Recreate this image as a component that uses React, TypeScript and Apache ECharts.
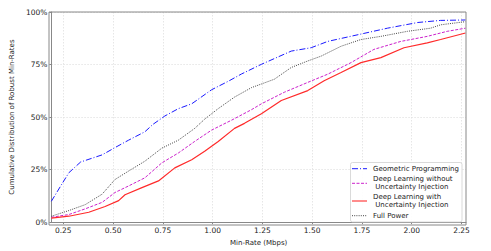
import React, { useEffect, useRef } from "react";
import * as echarts from "echarts";

const xTicks = [0.25, 0.5, 0.75, 1.0, 1.25, 1.5, 1.75, 2.0, 2.25];
const yTicks = [0, 25, 50, 75, 100];

const gpX = [0.19, 0.237, 0.278, 0.337, 0.445, 0.52, 0.578, 0.66, 0.7, 0.76, 0.828, 0.895, 0.995, 1.078, 1.145, 1.245, 1.395, 1.495, 1.578, 1.745, 1.878, 2.03, 2.145, 2.27];
const gpY = [9.9, 17.2, 23.5, 28.6, 32.0, 36.0, 39.0, 43.0, 46.5, 50.5, 54.0, 56.3, 63.0, 67.0, 70.5, 75.1, 81.4, 83.0, 86.0, 89.5, 92.3, 95.0, 96.0, 96.2];

const fpX = [0.19, 0.278, 0.36, 0.445, 0.51, 0.578, 0.66, 0.745, 0.828, 0.91, 0.96, 1.028, 1.11, 1.195, 1.31, 1.395, 1.478, 1.545, 1.645, 1.745, 1.845, 1.978, 2.095, 2.145, 2.27];
const fpY = [2.8, 5.5, 8.3, 13.3, 20.3, 24.3, 29.0, 35.2, 39.0, 44.6, 49.0, 54.0, 59.5, 64.0, 68.0, 73.6, 76.7, 79.0, 83.7, 86.9, 88.4, 90.8, 92.3, 93.9, 95.4];

const dlwoX = [0.19, 0.278, 0.36, 0.445, 0.51, 0.578, 0.66, 0.745, 0.828, 0.91, 0.995, 1.095, 1.195, 1.245, 1.36, 1.478, 1.578, 1.695, 1.81, 1.945, 2.078, 2.178, 2.27];
const dlwoY = [2.3, 3.6, 6.3, 9.4, 14.1, 17.2, 21.1, 28.2, 32.9, 38.4, 43.8, 48.5, 53.5, 56.3, 61.8, 66.5, 70.4, 75.9, 82.2, 86.0, 88.4, 90.8, 92.3];

const dlwX = [0.19, 0.278, 0.378, 0.46, 0.528, 0.56, 0.645, 0.728, 0.81, 0.895, 0.96, 1.028, 1.11, 1.16, 1.245, 1.345, 1.478, 1.56, 1.645, 1.745, 1.845, 1.961, 2.078, 2.145, 2.27];
const dlwY = [1.9, 2.8, 4.7, 7.4, 10.2, 13.0, 16.4, 19.6, 25.8, 29.7, 33.7, 38.4, 44.6, 47.0, 51.6, 57.9, 62.6, 67.3, 71.2, 75.9, 78.3, 83.0, 85.3, 86.9, 90.0];

const names = [
  "Geometric Programming",
  "Deep Learning without\n Uncertainty Injection",
  "Deep Learning with\n Uncertainty Injection",
  "Full Power",
];

const FONT = "DejaVu Sans";

function zip(xs: number[], ys: number[]) {
  return xs.map((x, i) => [x, ys[i]]);
}

export default function App() {
  const ref = useRef<HTMLDivElement>(null);
  useEffect(() => {
    if (!ref.current) return;
    const chart = echarts.init(ref.current, null, { renderer: "svg" });
    const colors = ["#1a1aff", "#cc22cc", "#ff2a2a", "#444444"];
    const lineTypes: any[] = [[6, 2, 1, 2], [3, 1.5], "solid", [1, 1.2]];
    const widths = [1, 1, 1.2, 1];

    const legendX0 = 352;
    const legendX1 = 367;
    const legendTextX = 373;
    const legendRows = [
      { lineY: 168.7, textY: 168.7 },
      { lineY: 183.3, textY: 183.3 },
      { lineY: 201, textY: 200.7 },
      { lineY: 215.7, textY: 215.7 },
    ];
    const legendGraphics: any[] = [
      {
        type: "rect",
        shape: { x: 350.5, y: 162.5, width: 111.5, height: 59.5, r: 2 },
        style: { fill: "rgba(255,255,255,0.9)", stroke: "#d0d0d0", lineWidth: 0.8 },
        z: 100,
      },
    ];
    names.forEach((n, i) => {
      const r = legendRows[i];
      legendGraphics.push({
        type: "line",
        shape: { x1: legendX0, y1: r.lineY, x2: legendX1, y2: r.lineY },
        style: {
          stroke: colors[i],
          lineWidth: i === 2 ? 1.8 : 1,
          lineDash: Array.isArray(lineTypes[i]) ? lineTypes[i] : null,
          opacity: i === 2 ? 0.6 : 1,
        },
        z: 101,
      });
      legendGraphics.push({
        type: "text",
        x: legendTextX,
        y: r.textY,
        style: {
          text: n,
          fontFamily: FONT,
          fontSize: 7,
          lineHeight: 8,
          fill: "#222",
          verticalAlign: "middle",
          align: "left",
        },
        z: 101,
      });
    });

    const seriesData = [zip(gpX, gpY), zip(dlwoX, dlwoY), zip(dlwX, dlwY), zip(fpX, fpY)];

    chart.setOption({
      animation: false,
      backgroundColor: "#ffffff",
      grid: { left: 49, right: 25, top: 12, bottom: 26, containLabel: false },
      xAxis: {
        type: "value",
        min: 0.19,
        max: 2.2725,
        name: "Min-Rate (Mbps)",
        nameLocation: "middle",
        nameGap: 9,
        nameTextStyle: { fontFamily: FONT, fontSize: 7, color: "#222", verticalAlign: "top" },
        axisLine: { show: true, onZero: false, lineStyle: { color: "#888", width: 1 } },
        axisTick: { show: true, length: 2, customValues: xTicks, lineStyle: { color: "#888" } },
        axisLabel: {
          customValues: xTicks,
          fontFamily: FONT,
          fontSize: 7.5,
          color: "#222",
          margin: 4,
          formatter: (v: number) => v.toFixed(2),
        },
        splitLine: { show: true, lineStyle: { color: "#e0e0e0", type: [1.5, 1.5], width: 0.8 } },
      },
      yAxis: {
        type: "value",
        min: 0,
        max: 100,
        interval: 25,
        name: "Cumulative Distribution of Robust Min-Rates",
        nameLocation: "middle",
        nameGap: 26,
        nameTextStyle: { fontFamily: FONT, fontSize: 7, color: "#222" },
        axisLine: { show: true, lineStyle: { color: "#888", width: 1 } },
        axisTick: { show: true, length: 2, lineStyle: { color: "#888" } },
        axisLabel: {
          fontFamily: FONT,
          fontSize: 7.5,
          color: "#222",
          margin: 4,
          formatter: (v: number) => (yTicks.indexOf(v) >= 0 ? v + "%" : ""),
        },
        splitLine: { show: true, lineStyle: { color: "#e0e0e0", type: [1.5, 1.5], width: 0.8 } },
      },
      series: seriesData.map((d, i) => ({
        type: "line",
        name: names[i],
        data: d,
        showSymbol: false,
        symbol: "none",
        z: i === 0 ? 5 : 4,
        lineStyle: { color: colors[i], width: widths[i], type: lineTypes[i] },
      })),
      graphic: [
        {
          type: "rect",
          shape: { x: 49, y: 12, width: 417, height: 213 },
          style: { fill: "none", stroke: "#888", lineWidth: 1 },
          silent: true,
          z: 50,
        },
        ...legendGraphics,
      ],
    });
    return () => chart.dispose();
  }, []);
  return (
    <div
      ref={ref}
      style={{ position: "fixed", left: 0, top: 0, width: 491, height: 251 }}
    />
  );
}
